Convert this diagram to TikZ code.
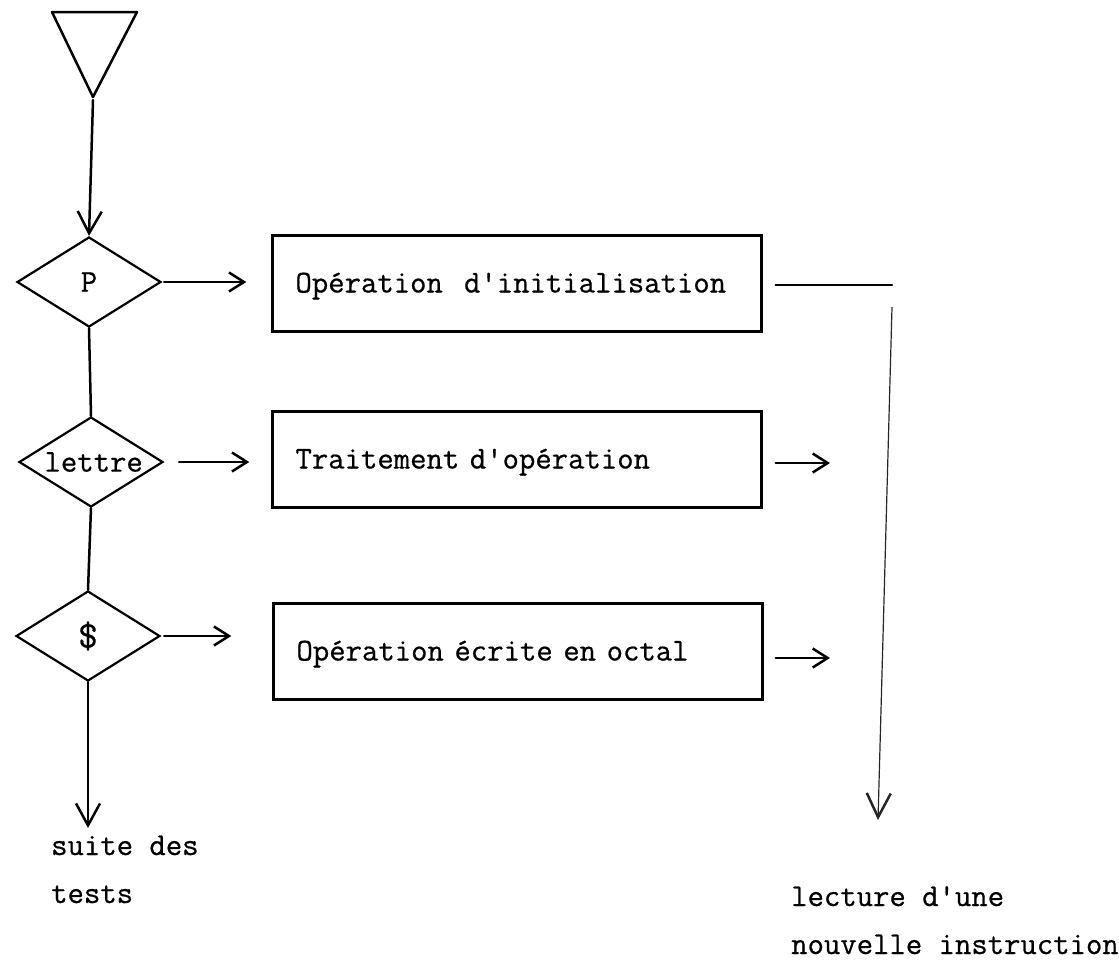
\documentclass[tikz,border=0pt]{standalone}
\usepackage{fontspec}
\usetikzlibrary{shapes.geometric,arrows.meta}
\newfontfamily\typewface{Latin Modern Mono}[FakeBold=0.6]
\newcommand\typew{\typewface\fontsize{31.8}{48}\selectfont}
\newcommand\qt{\textquotesingle{}}
\begin{document}
\begin{tikzpicture}[x=1pt,y=-1pt,
  every node/.style={font=\typew},
  ln/.style={line width=2.5pt, line cap=round, line join=round},
  thinln/.style={line width=1.2pt, black!85},
  downarr/.style={-{Straight Barb[length=22pt,width=24pt,line width=2.5pt]}},
  rightarr/.style={-{Straight Barb[length=15pt,width=19pt,line width=2.5pt]}},
  test/.style={diamond, draw, line width=2.2pt, inner sep=0pt, aspect=1.6,
    minimum width=144pt, minimum height=90pt},
  stepbox/.style={rectangle, draw, line width=2.4pt, minimum width=489pt,
    minimum height=96pt, text width=443pt, inner xsep=23pt, align=left,
    text height=24pt, text depth=6pt},
  lbl/.style={anchor=base west, align=left, inner sep=0pt}]
\useasboundingbox (0,0) rectangle (1119,962);

% entry triangle
\draw[ln] (52,12) -- (137,12) -- (93,97) -- cycle;
\coordinate (start) at (93,100);

% test diamonds
\node[test] (dP) at (89,282) {P};
\node[test] (dL) at (91,462) {\,lettre};
\node[test] (dD) at (88,636) {\fontsize{38}{38}\selectfont\$};

% processing boxes
\node[stepbox] (box1) at (517,283.5) {Opération\ \ d\qt initialisation};
\node[stepbox] (box2) at (517,459.5) {Traitement d\qt opération};
\node[stepbox] (box3) at (518,651.5) {Opération écrite en octal};

% free ends
\coordinate (down1) at (88,828);
\coordinate (out2) at (830,463);
\coordinate (out3) at (830,658);
\coordinate (j1) at (892,285);
\coordinate (j2) at (892,307);
\coordinate (down2) at (878,820);

% main vertical chain
\draw[ln, downarr] (start) -- (dP.north);
\draw[ln] (dP.south) -- (dL.north);
\draw[ln] (dL.south) -- (dD.north);
\draw[ln, downarr] (dD.south) -- (down1);

% branches to the boxes
\draw[ln, rightarr, shorten <=2pt, shorten >=25pt] (dP.east) -- (dP.east -| box1.west);
\draw[ln, rightarr, shorten <=15pt, shorten >=22pt] (dL.east) -- (dL.east -| box2.west);
\draw[ln, rightarr, shorten <=3pt, shorten >=41pt] (dD.east) -- (dD.east -| box3.west);

% exits of the boxes
\draw[ln, rightarr, shorten <=13pt] (box2.east |- out2) -- (out2);
\draw[ln, rightarr, shorten <=12pt] (box3.east |- out3) -- (out3);
\draw[ln, shorten <=13pt] (box1.east |- j1) -- (j1);
\draw[thinln, -{Straight Barb[length=24pt,width=24pt,line width=2.5pt]}] (j2) -- (down2);

% labels (anchored on the baseline of their last line)
\node[lbl] (suite) at (51,903) {suite des\\tests};
\node[lbl] (lect) at (791,954) {lecture d\qt une\\nouvelle instruction};
\end{tikzpicture}
\end{document}
